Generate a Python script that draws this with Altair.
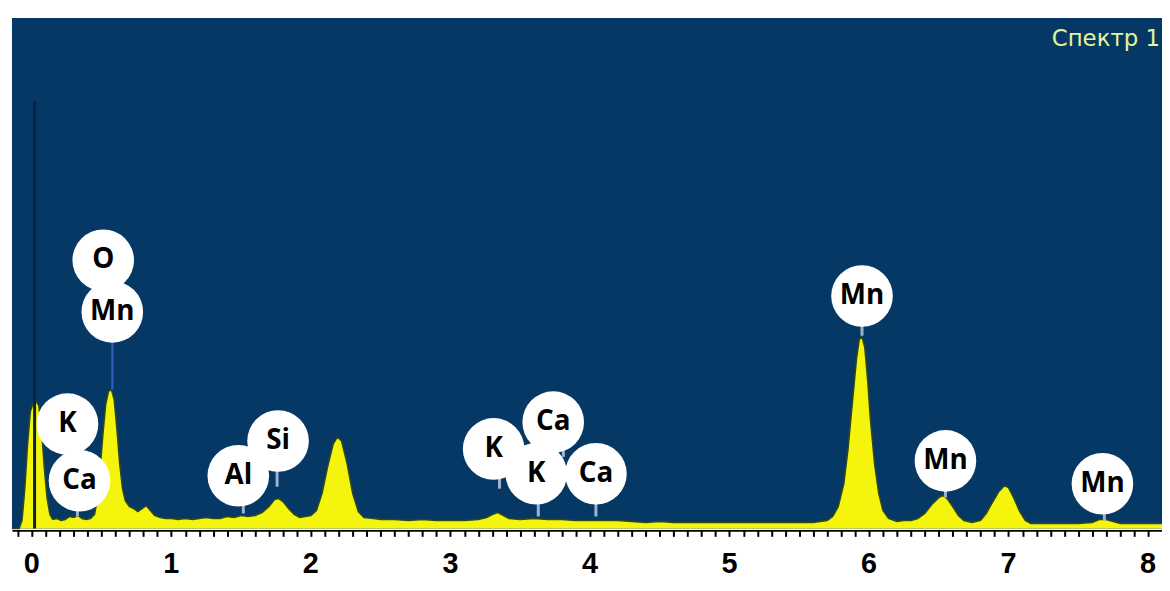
import altair as alt
import pandas as pd

# Spectrum (energy in keV, counts in arbitrary units)
energy = [-0.142, -0.09, -0.07, -0.05, -0.03, -0.01, 0.01, 0.03, 0.05, 0.07, 0.09, 0.11, 0.13, 0.15,
          0.18, 0.21, 0.24, 0.27, 0.30, 0.33, 0.36, 0.39, 0.42, 0.45, 0.47, 0.49, 0.51, 0.53, 0.55,
          0.57, 0.59, 0.61, 0.63, 0.65, 0.67, 0.70, 0.73, 0.76, 0.79, 0.82, 0.85, 0.88, 0.92, 0.96,
          1.00, 1.05, 1.10, 1.15, 1.20, 1.25, 1.30, 1.35, 1.40, 1.45, 1.50, 1.55, 1.60, 1.65, 1.70,
          1.74, 1.77, 1.80, 1.84, 1.88, 1.92, 1.96, 2.00, 2.04, 2.08, 2.12, 2.16, 2.19, 2.22, 2.26,
          2.30, 2.34, 2.38, 2.45, 2.50, 2.60, 2.70, 2.80, 2.90, 3.00, 3.10, 3.20, 3.26, 3.30, 3.34,
          3.38, 3.42, 3.50, 3.60, 3.70, 3.80, 3.90, 4.00, 4.10, 4.20, 4.30, 4.40, 4.50, 4.60, 4.80,
          5.00, 5.20, 5.40, 5.60, 5.70, 5.74, 5.78, 5.82, 5.85, 5.88, 5.91, 5.93, 5.95, 5.97, 5.99,
          6.01, 6.04, 6.07, 6.10, 6.14, 6.20, 6.25, 6.30, 6.35, 6.40, 6.45, 6.50, 6.53, 6.56, 6.60,
          6.64, 6.68, 6.74, 6.80, 6.84, 6.88, 6.93, 6.97, 7.00, 7.04, 7.08, 7.12, 7.16, 7.30, 7.50,
          7.60, 7.65, 7.70, 7.75, 7.80, 8.00, 8.10]
counts = [0, 0, 8, 40, 85, 118, 126, 128, 124, 100, 60, 30, 14, 9,
          10, 8, 9, 12, 11, 13, 10, 9, 10, 14, 30, 60, 95, 125, 138,
          140, 130, 100, 65, 40, 28, 22, 20, 17, 20, 23, 18, 13, 11, 10,
          10, 9, 10, 9, 10, 11, 10, 10, 12, 11, 13, 12, 13, 16, 22,
          29, 30, 27, 20, 14, 11, 12, 13, 18, 35, 62, 85, 92, 88, 65,
          35, 17, 11, 10, 9, 9, 8, 9, 8, 8, 8, 9, 11, 14, 16,
          13, 10, 9, 10, 9, 9, 8, 8, 8, 8, 7, 6, 7, 6, 6,
          6, 6, 6, 6, 8, 12, 22, 45, 80, 125, 170, 190, 193, 182, 150,
          110, 65, 35, 18, 10, 7, 8, 8, 10, 15, 24, 31, 33, 30, 22,
          13, 8, 6, 8, 15, 25, 37, 43, 41, 30, 17, 8, 5, 5, 5,
          6, 9, 9, 7, 5, 5, 5]

# Element labels
label_text = ["O", "Mn", "K", "Ca", "Al", "Si", "K", "Ca", "K", "Ca", "Mn", "Mn", "Mn"]
label_energy = [0.512, 0.577, 0.256, 0.342, 1.480, 1.765, 3.310, 3.737, 3.616, 4.043, 5.950, 6.548, 7.673]
label_height = [270, 218, 105, 48, 53, 88, 80, 107, 55, 55, 234, 68, 45]

# Marker stems (element line positions)
stem_energy = [0.327, 1.516, 1.758, 3.352, 3.630, 3.810, 4.043, 5.950, 6.548, 7.687]
stem_top = [20, 25, 58, 52, 25, 78, 25, 204, 38, 15]
stem_bottom = [12, 15, 42, 40, 12, 72, 12, 194, 31, 8]
main_stem_energy = [0.577]
main_stem_top = [188]
main_stem_bottom = [140]

strobe_energy = [0.02]
strobe_top = [430]

tick_labels = [0, 1, 2, 3, 4, 5, 6, 7, 8]
minor_ticks = [i / 10 for i in range(-1, 81)]
spectrum_name = ["Спектр 1"]

x_scale = alt.Scale(domain=[-0.142, 8.1], nice=False, zero=False)
y_scale = alt.Scale(domain=[0, 514], nice=False, zero=True)

spec = pd.DataFrame({"E": energy, "c": counts})
labels = pd.DataFrame({"E": label_energy, "h": label_height, "t": label_text})
stems = pd.DataFrame({"E": stem_energy, "top": stem_top, "bot": stem_bottom})
main_stem = pd.DataFrame({"E": main_stem_energy, "top": main_stem_top, "bot": main_stem_bottom})
strobe = pd.DataFrame({"E": strobe_energy, "top": strobe_top, "bot": [0]})
title_df = pd.DataFrame({"t": spectrum_name})
tick_df = pd.DataFrame({"E": tick_labels})

# minor ticks only (labels drawn separately)
x_axis = alt.Axis(
    values=minor_ticks, labels=False,
    grid=False, title=None, domainColor="black", domainWidth=2, offset=2,
    tickColor="black", tickWidth=2, tickSize=6,
)


def X():
    return alt.X("E:Q", scale=x_scale, axis=x_axis)


def Y(field):
    return alt.Y(field, scale=y_scale, axis=None)


area = alt.Chart(spec).mark_area(
    color="#f4f40c", interpolate="linear", opacity=1,
    line=alt.OverlayMarkDef(color="#2f4a1c", strokeWidth=1.5),
).encode(x=X(), y=Y("c:Q"))

# integer tick labels drawn as text under the axis
tick_text = alt.Chart(tick_df).mark_text(
    font="Liberation Sans", fontWeight="bold", fontSize=29, color="black",
    baseline="middle", align="center",
).encode(x=X(), y=alt.value(550), text="E:Q")

strobe_rule = alt.Chart(strobe).mark_rule(color="#0c2146", strokeWidth=3).encode(
    x=X(), y=Y("top:Q"), y2="bot:Q"
)

stem_rules = alt.Chart(stems).mark_rule(color="#9fb3cf", strokeWidth=3).encode(
    x=X(), y=Y("top:Q"), y2="bot:Q"
)

main_rule = alt.Chart(main_stem).mark_rule(color="#3b5cc4", strokeWidth=2).encode(
    x=X(), y=Y("top:Q"), y2="bot:Q"
)

circles = alt.Chart(labels).mark_circle(size=3850, color="white", opacity=1).encode(
    x=X(), y=Y("h:Q")
)

texts = alt.Chart(labels).mark_text(
    font="Open Sans", fontWeight="bold", fontSize=28, color="black", baseline="middle", align="center"
).encode(x=X(), y=Y("h:Q"), text="t:N")

title = alt.Chart(title_df).mark_text(
    font="DejaVu Sans", fontSize=23, color="#e3f59b", align="right", baseline="alphabetic"
).encode(x=alt.value(1156), y=alt.value(28), text="t:N")

chart = alt.layer(area, tick_text, strobe_rule, stem_rules, main_rule, circles, texts, title).properties(
    width=1158, height=514,
    autosize=alt.AutoSizeParams(type="none"),
    padding={"left": 4, "top": 8, "right": 0, "bottom": 55},
    background="white",
).configure_view(fill="#063865", stroke=None)

chart.save("out.html", embed_options={"renderer": "svg", "actions": False})
